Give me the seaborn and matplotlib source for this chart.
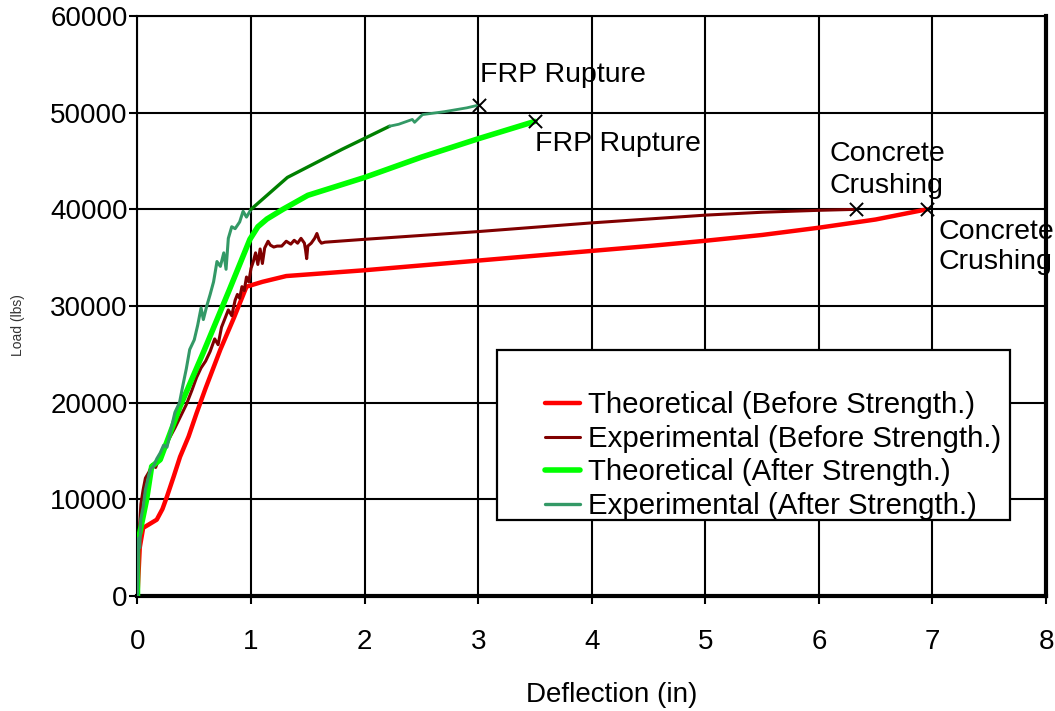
import matplotlib
matplotlib.use("Agg")
import matplotlib.pyplot as plt
import seaborn as sns
import pandas as pd
from matplotlib.patches import Rectangle
from matplotlib.lines import Line2D

# ---------------- data ----------------
theo_before_x = [0, 0.02, 0.05, 0.1, 0.17, 0.22, 0.26, 0.32, 0.375, 0.45, 0.52, 0.6, 0.73, 0.85, 0.96,
                 1.1, 1.31, 2.0, 3.0, 4.0, 4.5, 5.0, 5.5, 6.0, 6.5, 6.95]
theo_before_y = [0, 5000, 7050, 7400, 7900, 9000, 10300, 12400, 14400, 16500, 18900, 21500, 25500, 28800, 32000,
                 32500, 33100, 33700, 34700, 35700, 36200, 36750, 37350, 38100, 38950, 40000]

exp_before_x = [0, 0.005, 0.01, 0.02, 0.03, 0.05, 0.07, 0.1, 0.13, 0.16, 0.2, 0.24, 0.28, 0.33, 0.38, 0.43,
                0.48, 0.52, 0.56, 0.6, 0.64, 0.68, 0.71, 0.74, 0.77, 0.8, 0.83, 0.86, 0.88, 0.9, 0.92, 0.94,
                0.96, 0.98, 1.0, 1.02, 1.04, 1.06, 1.08, 1.1, 1.12, 1.15, 1.17, 1.2, 1.23, 1.27, 1.31, 1.35,
                1.38, 1.41, 1.44, 1.47, 1.48, 1.49, 1.5, 1.53, 1.56, 1.58, 1.6, 1.62, 1.65, 2.0, 3.0, 4.0,
                5.0, 5.5, 6.0, 6.33]
exp_before_y = [0, 2500, 5000, 7500, 9500, 11000, 12200, 12800, 13600, 13300, 14500, 15300, 16300, 17400, 18600,
                19800, 21300, 22600, 23600, 24300, 25300, 26600, 26000, 27800, 28700, 29600, 29000, 30600, 31200,
                30800, 32000, 31600, 33000, 32500, 33900, 34600, 35500, 34300, 35900, 34400, 36000, 36700, 36300,
                36100, 36200, 36200, 36700, 36400, 36800, 36500, 37000, 36500, 35800, 34900, 36200, 36500, 37000,
                37500, 36800, 36500, 36600, 36900, 37700, 38600, 39400, 39700, 39900, 40000]

theo_after_x = [0, 0, 0.02, 0.08, 0.125, 0.2, 0.375, 0.58, 0.81, 0.99, 1.06, 1.14, 1.28, 1.5, 2.0, 2.5, 3.0, 3.5]
theo_after_y = [0, 5800, 6500, 9950, 13400, 14100, 19600, 25200, 31700, 36900, 38200, 39000, 40000, 41450,
                43300, 45400, 47300, 49100]

exp_after_x = [0, 0.005, 0.01, 0.02, 0.03, 0.05, 0.07, 0.1, 0.12, 0.14, 0.17, 0.2, 0.23, 0.26, 0.3, 0.33, 0.37,
               0.4, 0.43, 0.46, 0.5, 0.53, 0.56, 0.58, 0.61, 0.64, 0.67, 0.7, 0.73, 0.76, 0.78, 0.8, 0.83, 0.86,
               0.9, 0.93, 0.96, 1.0]
exp_after_y = [0, 3000, 6000, 5000, 8000, 9200, 11000, 12500, 13200, 13400, 14200, 14800, 15600, 15400, 17500,
               19000, 20000, 21800, 23500, 25500, 26500, 28000, 29800, 28600, 30000, 31200, 32500, 34600, 34100,
               35500, 33800, 37000, 38200, 38000, 38700, 39800, 39200, 40000]

exp_after_mid_x = [1.0, 1.32, 1.8, 2.22]
exp_after_mid_y = [40000, 43300, 46200, 48600]

exp_after_end_x = [2.22, 2.3, 2.42, 2.44, 2.51, 2.7, 2.9, 3.01]
exp_after_end_y = [48600, 48800, 49300, 49000, 49800, 50100, 50500, 50800]

failure_x = [3.01, 3.5, 6.33, 6.95]
failure_y = [50800, 49100, 40000, 40000]

legend_labels = ["Theoretical (Before Strength.)", "Experimental (Before Strength.)",
                 "Theoretical (After Strength.)", "Experimental (After Strength.)"]

x_ticks = [0, 1, 2, 3, 4, 5, 6, 7, 8]
y_ticks = [0, 10000, 20000, 30000, 40000, 50000, 60000]

# ---------------- style ----------------
sns.set_style("white")
plt.rcParams['font.family'] = ['Liberation Sans', 'DejaVu Sans']

fig = plt.figure(figsize=(10.55, 7.11), dpi=100)
ax = fig.add_axes([0.1303, 0.1617, 0.8612, 0.8158])

c_red = "#FF0000"
c_dred = "#800000"
c_green = "#00FF00"
c_teal = "#339966"
c_dgreen = "#008000"

def draw(xs, ys, color, lw):
    df = pd.DataFrame({"x": xs, "y": ys})
    sns.lineplot(data=df, x="x", y="y", sort=False, estimator=None, color=color, lw=lw, ax=ax,
                 zorder=3, legend=False)

draw(theo_before_x, theo_before_y, c_red, 3.2)
draw(exp_before_x, exp_before_y, c_dred, 2.2)
draw(theo_after_x, theo_after_y, c_green, 4.0)
draw(exp_after_x, exp_after_y, c_teal, 2.2)
draw(exp_after_mid_x, exp_after_mid_y, c_dgreen, 2.4)
draw(exp_after_end_x, exp_after_end_y, c_teal, 2.0)

sns.scatterplot(x=failure_x, y=failure_y, marker="x", color="black", s=90, linewidth=1.4, ax=ax, zorder=4)

ax.set_xlim(0, 8)
ax.set_ylim(0, 60000)
ax.set_xticks(x_ticks)
ax.set_yticks(y_ticks)
ax.set_xticklabels([str(v) for v in x_ticks])
ax.set_yticklabels([str(v) for v in y_ticks])
ax.grid(True, color="black", lw=1.5, zorder=0)
ax.set_axisbelow(True)

ax.tick_params(axis="both", direction="out", length=6, width=1.5, color="black",
               labelsize=20, labelcolor="black", left=True, bottom=True)
ax.tick_params(axis="y", pad=1)
ax.tick_params(axis="x", pad=18)

for side in ["left", "top"]:
    ax.spines[side].set_linewidth(1.5)
    ax.spines[side].set_color("black")
for side in ["bottom", "right"]:
    ax.spines[side].set_linewidth(3.0)
    ax.spines[side].set_color("black")

ax.set_xlabel("Deflection (in)", fontsize=20, color="black")
ax.xaxis.set_label_coords(0.522, -0.148)
ax.set_ylabel("Load (lbs)", fontsize=10, color="#333333")
ax.yaxis.set_label_coords(-0.124, 0.467)

# annotations
tkw = dict(fontsize=20.5, color="black", ha="left", va="baseline", clip_on=False, zorder=5)
ax.text(3.02, 53160, "FRP Rupture", **tkw)
ax.text(3.5, 46010, "FRP Rupture", **tkw)
ax.text(6.09, 44970, "Concrete", **tkw)
ax.text(6.09, 41660, "Crushing", **tkw)
ax.text(7.05, 36890, "Concrete", **tkw)
ax.text(7.05, 33780, "Crushing", **tkw)

# legend box
ax.add_patch(Rectangle((0.3957, 0.131), 0.9604 - 0.3957, 0.424 - 0.131, transform=ax.transAxes,
                       facecolor="white", edgecolor="black", lw=1.6, zorder=6))
handles = [Line2D([], [], color=c_red, lw=3.2), Line2D([], [], color=c_dred, lw=2.2),
           Line2D([], [], color=c_green, lw=4.0), Line2D([], [], color=c_teal, lw=2.4)]
leg = ax.legend(handles, legend_labels, loc="upper left", bbox_to_anchor=(0.4486, 0.353),
                frameon=False, fontsize=21.2, handlelength=1.2, handletextpad=0.25,
                labelspacing=0.19, borderpad=0, borderaxespad=0, labelcolor="black")
leg.set_zorder(7)

fig.savefig("out.png", dpi=100)
